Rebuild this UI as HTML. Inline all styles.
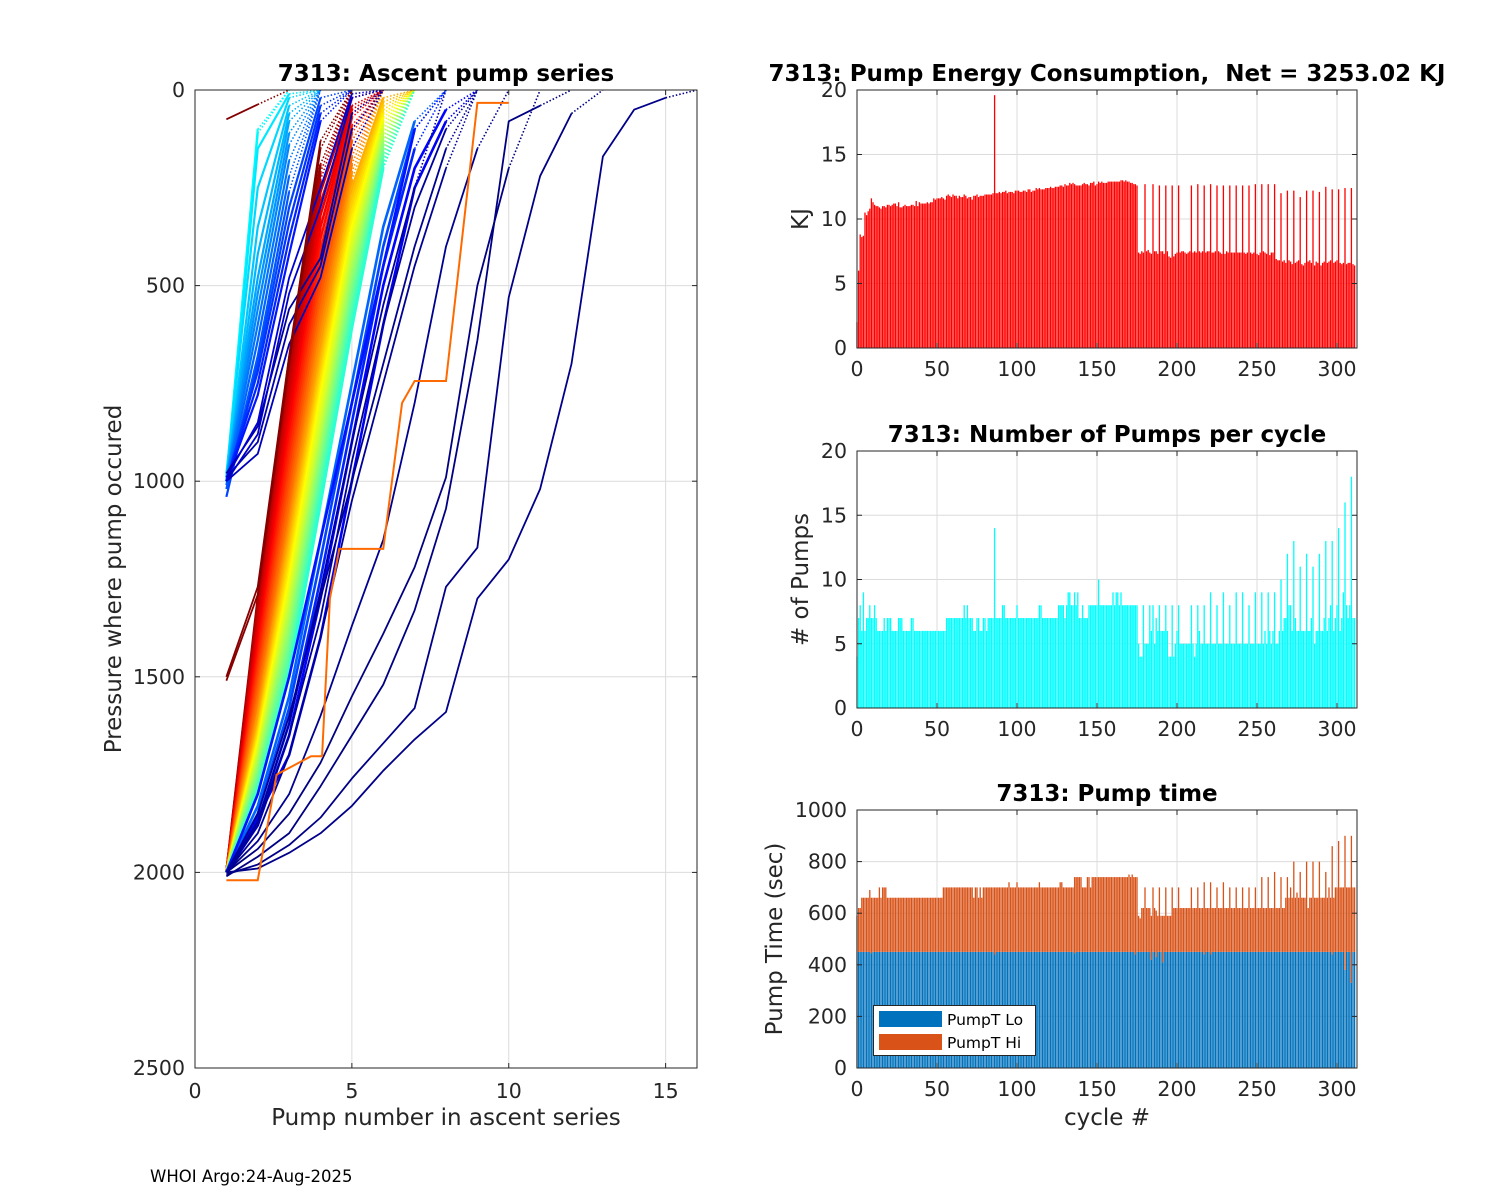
<!DOCTYPE html>
<html><head><meta charset="utf-8"><style>
html,body{margin:0;padding:0;background:#fff;}
svg{display:block;font-family:"DejaVu Sans","Liberation Sans",sans-serif;}
</style></head><body>
<svg id="fig" width="1500" height="1200" viewBox="0 0 1500 1200" xmlns="http://www.w3.org/2000/svg">
<rect width="1500" height="1200" fill="#fff"/>
<g id="L"></g>
<g id="E"></g>
<g id="N"></g>
<g id="T"></g>
<text x="150" y="1182" font-size="16.5" fill="#000">WHOI Argo:24-Aug-2025</text>
</svg>
<script>
const energy=[2,6,8.8,8.6,8.7,10.5,10.3,10.6,10.8,11.6,
11.3,11.1,11,11,10.9,10.8,11,11,10.9,11.1,
11.1,11,11.1,11.2,11.2,11,11.3,10.9,10.9,11,
11.1,11,11,11,11.1,11.1,11,11.4,11,11.3,
11.2,11.2,11.2,11.2,11.3,11.2,11.3,11.3,11.6,11.5,
11.6,11.6,11.6,11.7,11.6,11.5,11.8,11.9,11.8,11.7,
11.9,11.8,11.8,11.6,11.8,11.7,11.7,11.9,11.8,11.6,
11.7,11.7,11.5,11.8,11.8,11.9,11.7,11.8,11.8,11.8,
11.9,11.9,11.9,11.9,11.9,12,19.6,12,12,12.1,
12,12.1,12.1,12.2,12,12.1,12.1,12.1,12,12.2,
12.2,12.2,12.1,12.1,12.2,12.2,12.1,12.3,12.3,12.1,
12.2,12.2,12.4,12.3,12.4,12.3,12.3,12.3,12.4,12.4,
12.4,12.5,12.4,12.4,12.5,12.5,12.5,12.6,12.6,12.5,
12.7,12.6,12.6,12.8,12.7,12.8,12.7,12.6,12.6,12.6,
12.6,12.7,12.8,12.7,12.7,12.6,12.8,12.8,12.9,12.6,
12.7,12.9,12.8,12.9,12.8,12.8,12.8,12.9,12.9,12.9,
12.9,12.9,12.9,12.9,12.9,13,13,12.9,13,12.9,
12.9,12.8,12.8,12.7,12.7,12.6,7.4,7.3,7.5,7.4,
12.7,7.5,7.6,7.4,7.3,12.7,7.5,7.5,7.3,12.6,
7.5,7.5,7.3,12.6,7.5,7.1,7.0,12.6,7.1,7.3,
7.4,12.6,7.4,7.5,7.5,7.4,7.3,7.4,7.5,12.6,
7.4,7.5,7.4,12.7,7.5,7.4,7.5,12.6,7.4,7.5,
7.5,12.7,7.4,7.4,7.5,12.6,7.5,7.4,7.3,12.6,
7.3,7.5,7.4,12.6,7.4,7.4,7.4,12.6,7.4,7.4,
7.4,12.6,7.4,7.3,7.4,12.6,7.4,7.3,7.4,12.7,
7.3,7.2,7.4,12.7,7.5,7.4,7.3,12.7,7.2,7.4,
7.4,12.7,6.9,6.8,6.8,12.0,6.7,6.8,6.6,12.2,
6.8,6.7,6.5,12.2,6.6,6.7,6.8,11.7,6.5,6.4,
6.6,12.2,6.7,6.8,6.6,12.2,6.4,6.7,6.6,12.1,
6.4,6.6,6.7,12.5,6.6,6.7,6.8,12.3,6.6,6.7,
6.8,12.3,6.6,6.5,6.6,12.4,6.5,6.6,6.6,12.4,
6.5,6.4];
const pumps=[4,7,8,6,9,6,7,7,8,7,
7,8,7,6,6,6,6,7,6,7,
7,7,6,6,6,6,7,7,7,6,
6,6,6,6,7,7,6,6,6,6,
6,6,6,6,6,6,6,6,6,6,
6,6,6,6,6,6,7,7,7,7,
7,7,7,7,7,7,7,8,7,8,
7,7,7,6,6,7,7,6,6,7,
7,6,7,7,7,7,14,7,7,7,
7,8,8,7,7,7,7,7,7,7,
8,7,7,7,7,7,7,7,7,7,
7,7,7,7,8,8,7,7,7,7,
7,7,7,7,7,7,8,8,8,8,
7,8,9,9,8,8,9,8,9,7,
7,8,7,7,7,8,8,8,8,8,
8,10,8,8,8,8,8,8,8,8,
9,8,9,9,8,9,8,8,8,8,
8,8,8,8,8,8,5,4,4,8,
5,5,5,8,6,8,5,7,6,8,
6,6,6,8,6,4,4,8,4,5,
6,8,5,5,5,5,5,5,5,8,
5,4,5,8,6,5,5,8,5,5,
5,9,5,5,5,8,5,5,5,9,
5,5,5,8,5,5,5,9,5,5,
5,9,5,5,5,8,5,5,5,9,
5,5,5,9,5,6,5,9,6,5,
6,9,5,5,6,10,6,7,7,12,
8,8,6,13,7,6,6,11,6,6,
6,12,6,6,7,11,5,6,6,12,
6,6,7,13,6,7,8,13,6,7,
8,14,6,7,9,16,8,7,8,18,
7,7];
const timeTotal=[590,620,620,660,660,660,660,660,690,660,
660,660,660,660,700,660,700,700,700,660,
660,660,660,660,660,660,660,660,660,660,
660,660,660,660,660,660,660,660,660,660,
660,660,660,660,660,660,660,660,660,660,
660,660,660,660,700,700,700,700,700,700,
700,700,700,700,700,700,700,700,700,700,
700,700,700,660,700,700,660,700,660,700,
700,700,700,700,700,700,700,700,700,700,
700,700,700,700,700,720,700,700,700,700,
720,700,700,700,700,700,700,700,700,700,
700,700,700,700,720,700,700,700,700,700,
700,700,700,700,700,700,700,720,720,700,
700,700,700,700,700,700,740,740,740,740,
740,700,700,700,740,740,700,740,740,740,
740,740,740,740,740,740,740,740,740,740,
740,740,740,740,740,740,740,740,740,740,
750,740,750,740,740,740,590,580,620,620,
700,620,620,620,590,700,620,610,590,700,
590,590,590,700,590,590,590,700,620,620,
620,700,620,620,620,620,620,620,620,700,
620,620,620,700,620,620,620,720,620,620,
620,720,620,620,620,700,620,620,620,720,
620,620,620,700,620,620,620,700,620,620,
620,700,620,620,620,700,620,620,620,700,
620,620,620,740,620,620,620,740,620,620,
620,760,620,620,620,740,620,620,660,740,
660,700,660,800,660,680,660,760,660,660,
660,800,620,660,660,800,660,660,660,800,
660,660,660,760,660,700,660,860,660,700,
700,880,700,700,700,900,700,700,700,900,
700,700];
const timeLo=[450,450,450,450,450,450,450,450,450,445,
450,450,450,450,450,450,450,450,450,450,
450,450,450,450,450,450,450,450,450,450,
450,450,450,450,450,450,450,450,450,450,
450,450,450,450,450,450,450,450,450,450,
450,450,450,450,450,450,450,450,450,450,
450,450,450,450,450,450,450,450,450,450,
450,450,450,450,450,450,450,450,450,450,
450,450,450,450,450,450,440,450,450,450,
450,450,450,450,450,450,450,450,450,450,
450,450,450,450,450,450,450,450,450,450,
450,450,450,450,450,450,450,450,450,450,
450,450,450,450,450,450,450,450,450,450,
450,450,450,450,450,450,445,450,450,450,
450,450,450,450,450,450,450,450,450,450,
450,450,450,450,450,450,450,450,450,450,
450,450,450,450,450,450,450,450,450,450,
450,450,450,450,440,450,450,450,450,450,
450,450,450,450,420,450,450,430,450,450,
450,410,450,450,450,450,450,450,450,450,
450,450,450,450,450,450,450,450,450,450,
450,450,450,450,450,450,450,440,450,450,
450,440,450,450,450,450,450,450,450,450,
450,450,450,450,450,450,450,450,450,450,
450,450,450,450,450,450,450,450,450,450,
450,450,450,450,450,450,450,450,450,450,
450,450,450,450,450,450,450,450,450,450,
450,450,450,450,450,450,450,450,450,450,
450,450,450,450,450,450,450,450,450,450,
450,450,450,450,450,450,450,440,450,450,
450,450,450,450,450,380,450,450,450,330,
450,450];

const profCycles=[305,300,295,290,285,280,275,270,265,260,255,250,245,240,235,230,225,220,215,210,205,200,195,190,185,180,175,170,165,160,155,150,145,140,135,130,
70,60,50,45,40,35,
120,115,110,105,100,95,90,85,80,75,70,65,60,55,50,45,
10,14,18,22,26,
309,310,311,
3,2,1,0,5,6,7,8,9];
const profPressures=[
[2000,1300,690,190,0],[2000,1310,710,210,0],[2000,1330,730,230,0],[2000,1350,760,260,20,0],
[2000,1370,790,290,40,0],[2000,1390,820,320,50,0],[2000,1410,850,350,60,0],[2000,1430,880,380,70,0],
[2000,1450,910,410,90,0],[2000,1470,940,440,100,0],[2000,1490,970,470,110,0],[2000,1510,1000,500,130,0],
[2000,1530,1030,530,150,0],[2000,1550,1060,560,170,0],[2000,1570,1090,590,190,0],[2000,1590,1110,620,210,0],
[2000,1600,1130,650,230,0],[2000,1620,1150,680,250,20,0],[2000,1630,1170,700,270,30,0],[2000,1640,1190,720,290,40,0],
[2000,1650,1210,740,310,50,0],[2000,1660,1230,760,330,60,0],[2000,1670,1250,780,350,70,0],[2000,1680,1270,800,370,80,0],
[2000,1690,1290,830,390,90,0],[2000,1700,1310,860,410,100,0],[2000,1710,1330,880,430,110,0],[2000,1720,1350,900,450,120,0],
[2000,1730,1370,920,470,130,0],[2000,1740,1390,940,490,140,0],[2000,1750,1410,960,510,150,0],[2000,1760,1430,980,530,160,0],
[2000,1770,1450,1000,550,170,0],[2000,1780,1470,1020,570,180,0],[2000,1790,1490,1040,590,190,0],[2000,1800,1500,1060,610,200,0],
[2000,1830,1550,1150,750,350,80,0],[2000,1850,1580,1200,800,400,100,0],[2000,1870,1620,1250,850,450,150,0],
[2000,1800,1500,1150,800,450,100,0],[2000,1880,1650,1300,900,500,200,50,0],[2000,1860,1700,1400,1000,600,250,80,0],
[1000,100,0],[990,110,0],[1000,150,10,0],[980,250,20,0],[1000,350,40,0],[1000,420,60,0],[990,480,80,0],
[1000,520,110,0],[1000,560,140,0],[1000,600,180,0],[1010,640,220,0],[1020,680,260,0],[1040,700,300,20,0],
[1000,720,340,40,0],[1000,750,380,60,0],[1000,780,420,80,0],
[980,860,560,430,60,0],[990,900,600,450,100,0],[1000,930,650,480,150,0],[1000,880,520,300,20,0],[990,850,480,250,10,0],
[1510,1290,700,150,0],[1500,1270,680,130,0],[75,37,0],
[2000,1990,1950,1900,1830,1740,1660,1590,1300,1200,1020,700,170,50,20,0],
[2005,1980,1930,1860,1760,1670,1580,1270,1170,530,220,60,0],
[2010,1960,1900,1780,1650,1520,1330,1070,640,80,40,0],
[2000,1940,1850,1720,1550,1390,1220,990,500,200,0],
[2000,1920,1800,1600,1370,1150,800,400,150,0],
[2000,1850,1600,1300,1000,700,400,150,0],
[2000,1900,1700,1400,1050,750,450,200,0],
[2000,1880,1650,1350,950,600,300,100,0],
[2000,1870,1620,1280,900,550,250,0]];
const stairX=[1,2,2.6,3.7,4.05,4.3,4.6,6,6.6,7,8,9,10];
const stairP=[2020,2020,1750,1703,1703,1300,1173,1173,800,744,744,33,33];

const NS="http://www.w3.org/2000/svg";
function mk(parent,tag,attrs,text){const e=document.createElementNS(NS,tag);for(const k in attrs)e.setAttribute(k,attrs[k]);if(text!==undefined)e.textContent=text;parent.appendChild(e);return e;}
const AX="#262626";
const TF=23, LF=20.5, AF=23;
function jet(f){const c=v=>Math.max(0,Math.min(1,v));const r=c(1.5-Math.abs(4*f-3)),g=c(1.5-Math.abs(4*f-2)),b=c(1.5-Math.abs(4*f-1));return `rgb(${Math.round(r*255)},${Math.round(g*255)},${Math.round(b*255)})`;}

// ---------- Left chart ----------
(function(){
const g=document.getElementById('L');
const x0=195,x1=697,y0=90,y1=1068;
const sx=v=>x0+(v/16)*(x1-x0), sy=p=>y0+(p/2500)*(y1-y0);
mk(g,'defs',{}).innerHTML='<clipPath id="clipL"><rect x="195" y="90" width="502" height="978"/></clipPath>';
[5,10,15].forEach(v=>{const l=mk(g,'line',{x1:sx(v),x2:sx(v),y1:y0,y2:y1,stroke:'#dcdcdc','stroke-width':1});});
[500,1000,1500,2000].forEach(p=>{const l=mk(g,'line',{x1:x0,x2:x1,y1:sy(p),y2:sy(p),stroke:'#dcdcdc','stroke-width':1});});
const lines=mk(g,'g',{'clip-path':'url(#clipL)'});


profPressures.forEach((ps,i)=>{
  const col=jet(profCycles[i]/312);
  const wide = i<42 ? 2.6 : (i<58 ? 2.2 : 1.8);
  const n=ps.length;
  let d='';
  for(let k=0;k<n-1;k++){d+=(k?'L':'M')+sx(k+1)+','+sy(ps[k]);}
  if(n>=2){
    const solid=mk(lines,'path',{d:d,fill:'none',stroke:col,'stroke-width':wide,'stroke-linejoin':'round'});
    
    
    const dot=mk(lines,'line',{x1:sx(n-1),y1:sy(ps[n-2]),x2:sx(n),y2:sy(ps[n-1]),stroke:col,'stroke-width':1.6,'stroke-dasharray':'1.5,2'});
    
    
  }
});
let sd='';stairX.forEach((v,k)=>{sd+=(k?'L':'M')+sx(v)+','+sy(stairP[k]);});
const st=mk(lines,'path',{d:sd,fill:'none',stroke:'#ff6a00','stroke-width':2});


const box=mk(g,'rect',{x:x0,y:y0,width:x1-x0,height:y1-y0,fill:'none',stroke:AX,'stroke-width':1});

[0,5,10,15].forEach(v=>{mk(g,'line',{x1:sx(v),x2:sx(v),y1:y1,y2:y1-5,stroke:AX});mk(g,'line',{x1:sx(v),x2:sx(v),y1:y0,y2:y0+5,stroke:AX});
 const t=mk(g,'text',{x:sx(v),y:1098,'font-size':LF,'text-anchor':'middle',fill:AX},String(v));});
[0,500,1000,1500,2000,2500].forEach(p=>{mk(g,'line',{x1:x0,x2:x0+5,y1:sy(p),y2:sy(p),stroke:AX});mk(g,'line',{x1:x1,x2:x1-5,y1:sy(p),y2:sy(p),stroke:AX});
 const t=mk(g,'text',{x:185,y:sy(p)+7,'font-size':LF,'text-anchor':'end',fill:AX},String(p));});
let t=mk(g,'text',{x:446,y:81,'font-size':TF,'font-weight':'bold','text-anchor':'middle',fill:'#000'},'7313: Ascent pump series');
t=mk(g,'text',{x:446,y:1125,'font-size':AF,'text-anchor':'middle',fill:AX},'Pump number in ascent series');
t=mk(g,'text',{x:0,y:0,'font-size':AF,'text-anchor':'middle',fill:AX,transform:'translate(121,579) rotate(-90)'},'Pressure where pump occured');
})();

// ---------- Right charts ----------
function barAxes(id,y0,y1,ymax,yticks,title,ylabel,ylabX){
  const g=document.getElementById(id);
  const x0=857,x1=1357;
  const sx=c=>x0+c*1.6, sy=v=>y1-(v/ymax)*(y1-y0);
  [50,100,150,200,250,300].forEach(c=>{const l=mk(g,'line',{x1:sx(c),x2:sx(c),y1:y0,y2:y1,stroke:'#dcdcdc'});});
  yticks.forEach(v=>{const l=mk(g,'line',{x1:x0,x2:x1,y1:sy(v),y2:sy(v),stroke:'#dcdcdc'});});
  const bars=mk(g,'g',{});
  
  
  return {g,bars,x0,x1,sx,sy,finish:function(xlabel){
    const b=mk(g,'rect',{x:x0,y:y0,width:x1-x0,height:y1-y0,fill:'none',stroke:AX});
    [0,50,100,150,200,250,300].forEach(c=>{mk(g,'line',{x1:sx(c),x2:sx(c),y1:y1,y2:y1-5,stroke:AX});mk(g,'line',{x1:sx(c),x2:sx(c),y1:y0,y2:y0+5,stroke:AX});
      const t=mk(g,'text',{x:sx(c),y:y1+28,'font-size':LF,'text-anchor':'middle',fill:AX},String(c));});
    yticks.forEach(v=>{mk(g,'line',{x1:x0,x2:x0+5,y1:sy(v),y2:sy(v),stroke:AX});mk(g,'line',{x1:x1,x2:x1-5,y1:sy(v),y2:sy(v),stroke:AX});
      const t=mk(g,'text',{x:847,y:sy(v)+7,'font-size':LF,'text-anchor':'end',fill:AX},String(v));});
    let t=mk(g,'text',{x:1107,y:y0-9,'font-size':TF,'font-weight':'bold','text-anchor':'middle',fill:'#000','xml:space':'preserve'},title);t.style.whiteSpace='pre';
    t=mk(g,'text',{x:0,y:0,'font-size':AF,'text-anchor':'middle',fill:AX,transform:`translate(${ylabX},${(y0+y1)/2}) rotate(-90)`},ylabel);
    if(xlabel){t=mk(g,'text',{x:1107,y:y1+57,'font-size':AF,'text-anchor':'middle',fill:AX},xlabel);}
  }};
}
const BW=1.3;
(function(){
  const a=barAxes('E',90,348,20,[0,5,10,15,20],'7313: Pump Energy Consumption,  Net = 3253.02 KJ','KJ',808);
  energy.forEach((v,c)=>{const r=mk(a.bars,'rect',{x:a.sx(c)-BW/2,y:a.sy(v),width:BW,height:a.sy(0)-a.sy(v),fill:'#ff0000'});
    
    });
  a.finish();
})();
(function(){
  const a=barAxes('N',451,708,20,[0,5,10,15,20],'7313: Number of Pumps per cycle','# of Pumps',808);
  pumps.forEach((v,c)=>{const r=mk(a.bars,'rect',{x:a.sx(c)-BW/2,y:a.sy(v),width:BW,height:a.sy(0)-a.sy(v),fill:'#00ffff'});
    
    });
  a.finish();
})();
(function(){
  const a=barAxes('T',810,1068,1000,[0,200,400,600,800,1000],'7313: Pump time','Pump Time (sec)',782);
  timeLo.forEach((v,c)=>{const r=mk(a.bars,'rect',{x:a.sx(c)-BW/2,y:a.sy(v),width:BW,height:a.sy(0)-a.sy(v),fill:'#0072bd'});
    
    });
  timeTotal.forEach((v,c)=>{const lo=timeLo[c];const r=mk(a.bars,'rect',{x:a.sx(c)-BW/2,y:a.sy(v),width:BW,height:Math.max(0,a.sy(lo)-a.sy(v)),fill:'#d95319'});
    
    });
  a.finish('cycle #');
  const lg=mk(a.g,'g',{});
  
  
  mk(lg,'rect',{x:873.5,y:1005.5,width:162,height:50,fill:'#fff',stroke:AX});
  mk(lg,'rect',{x:879,y:1011,width:63,height:16,fill:'#0072bd'});
  let t=mk(lg,'text',{x:947,y:1025,'font-size':15.5,fill:'#000'},'PumpT Lo');
  mk(lg,'rect',{x:879,y:1034,width:63,height:16,fill:'#d95319'});
  t=mk(lg,'text',{x:947,y:1048,'font-size':15.5,fill:'#000'},'PumpT Hi');
})();
</script>
</body></html>
